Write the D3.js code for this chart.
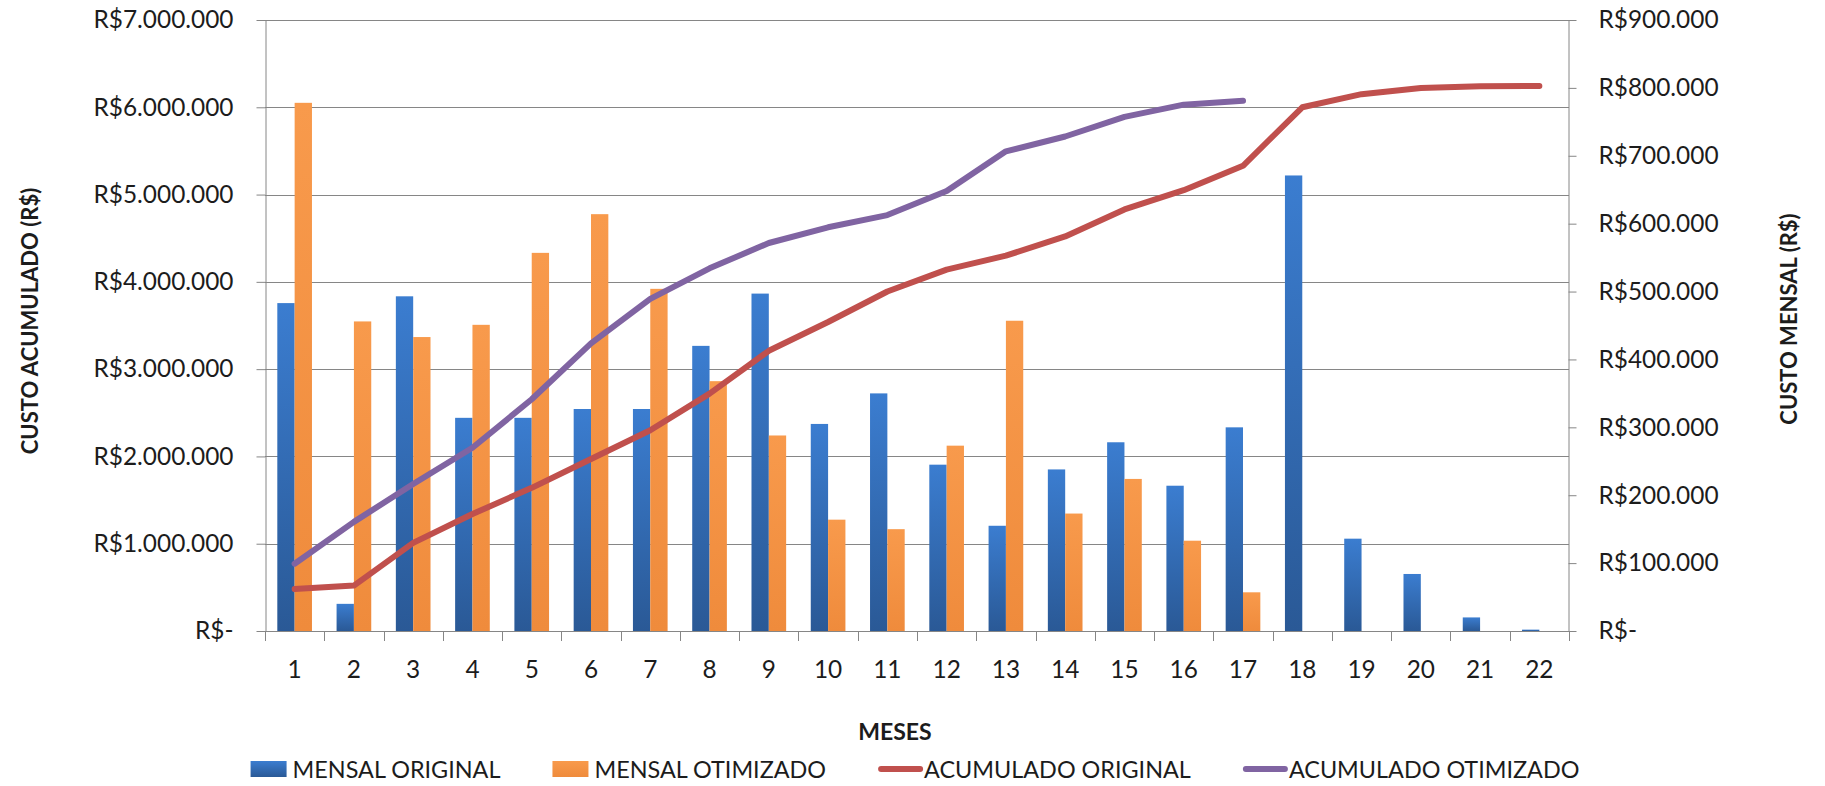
<!DOCTYPE html>
<html>
<head>
<meta charset="utf-8">
<script src="https://cdn.jsdelivr.net/npm/d3@7"></script>
<style>
  body { margin: 0; background: #ffffff; }
  svg { display: block; }
  text { font-family: Lato, "Open Sans", sans-serif; fill: #1c1c1c; }
</style>
</head>
<body>
<svg id="chart" width="1825" height="786"></svg>
<script>
// Months of the schedule
const meses = [1, 2, 3, 4, 5, 6, 7, 8, 9, 10, 11, 12, 13, 14, 15, 16, 17, 18, 19, 20, 21, 22];

// Monthly cost (right axis, R$)
const mensalOriginal = [483000, 40000, 493000, 314000, 314000, 327000, 327000, 420000, 497000, 305000, 350000,
  245000, 155000, 238000, 278000, 214000, 300000, 671000, 136000, 84000, 20000, 2000];
const mensalOtimizado = [778000, 456000, 433000, 451000, 557000, 614000, 504000, 368000, 288000, 164000, 150000,
  273000, 457000, 173000, 224000, 133000, 57000, null, null, null, null, null];

// Accumulated cost (left axis, R$)
const acumuladoOriginal = [480000, 520000, 1010000, 1340000, 1640000, 1970000, 2300000, 2720000, 3210000, 3540000,
  3890000, 4140000, 4300000, 4520000, 4830000, 5050000, 5330000, 6000000, 6150000, 6220000, 6240000, 6245000];
const acumuladoOtimizado = [771000, 1250000, 1685000, 2100000, 2655000, 3295000, 3805000, 4155000, 4445000, 4625000,
  4765000, 5040000, 5495000, 5665000, 5890000, 6030000, 6075000];

// Axis ticks
const ticksAcumulado = [0, 1000000, 2000000, 3000000, 4000000, 5000000, 6000000, 7000000];
const ticksMensal = [0, 100000, 200000, 300000, 400000, 500000, 600000, 700000, 800000, 900000];

// Series names and colours
const serieNomes = ["MENSAL ORIGINAL", "MENSAL OTIMIZADO", "ACUMULADO ORIGINAL", "ACUMULADO OTIMIZADO"];
const cores = { vermelho: "#c0504d", roxo: "#8064a2" };

const svg = d3.select("#chart");
const area = { left: 265, right: 1569, top: 20, bottom: 631 };
const axisColor = "#868686";
const fonte = "Lato, 'Open Sans', sans-serif";

const brl = d3.formatLocale({ decimal: ",", thousands: ".", grouping: [3], currency: ["R$", ""] });
const fmtMoeda = v => v === 0 ? "R$-" : brl.format("$,.0f")(v);

// Scales
const x = d3.scaleBand().domain(meses).range([area.left, area.right]).padding(0);
const xSerie = d3.scaleBand().domain(["orig", "otim"]).range([0, x.bandwidth()]).paddingInner(0).paddingOuter(0.71);
const yAcum = d3.scaleLinear().domain([0, 7000000]).range([area.bottom, area.top]);
const yMensal = d3.scaleLinear().domain([0, 900000]).range([area.bottom, area.top]);

// Bar gradients
const defs = svg.append("defs");
function grad(id, top, bottom) {
  const g = defs.append("linearGradient").attr("id", id).attr("x1", 0).attr("y1", 0).attr("x2", 0).attr("y2", 1);
  g.append("stop").attr("offset", "0%").attr("stop-color", top);
  g.append("stop").attr("offset", "100%").attr("stop-color", bottom);
}
grad("gAzul", "#3b7dd0", "#2a5996");
grad("gLaranja", "#f89a4c", "#ef8b3c");

// Horizontal gridlines on the accumulated scale
svg.append("g").selectAll("line")
  .data(ticksAcumulado.filter(v => v > 0))
  .join("line")
  .attr("x1", area.left).attr("x2", area.right)
  .attr("y1", d => Math.round(yAcum(d)) + 0.5).attr("y2", d => Math.round(yAcum(d)) + 0.5)
  .attr("stroke", axisColor).attr("stroke-width", 1);

// Bars
const grupos = svg.append("g").selectAll("g")
  .data(meses.map((m, i) => ({ m, orig: mensalOriginal[i], otim: mensalOtimizado[i] })))
  .join("g")
  .attr("transform", d => `translate(${x(d.m)},0)`);

grupos.filter(d => d.orig != null).append("rect")
  .attr("x", xSerie("orig")).attr("width", xSerie.bandwidth())
  .attr("y", d => yMensal(d.orig)).attr("height", d => area.bottom - yMensal(d.orig))
  .attr("fill", "url(#gAzul)");

grupos.filter(d => d.otim != null).append("rect")
  .attr("x", xSerie("otim")).attr("width", xSerie.bandwidth())
  .attr("y", d => yMensal(d.otim)).attr("height", d => area.bottom - yMensal(d.otim))
  .attr("fill", "url(#gLaranja)");

// Left axis (accumulated)
const eixoEsq = svg.append("g").attr("transform", `translate(${area.left + 0.5},0)`)
  .call(d3.axisLeft(yAcum).tickValues(ticksAcumulado).tickFormat(fmtMoeda).tickSize(9).tickSizeOuter(0).tickPadding(23));
// Right axis (monthly)
const eixoDir = svg.append("g").attr("transform", `translate(${area.right - 0.5},0)`)
  .call(d3.axisRight(yMensal).tickValues(ticksMensal).tickFormat(fmtMoeda).tickSize(8).tickSizeOuter(0).tickPadding(22));
// Bottom axis (months), labels centred in each band
const eixoX = svg.append("g").attr("transform", `translate(0,${area.bottom + 0.5})`)
  .call(d3.axisBottom(x).tickSize(0).tickSizeOuter(0).tickPadding(29));

[eixoEsq, eixoDir, eixoX].forEach(g => {
  g.select(".domain").attr("stroke", axisColor);
  g.selectAll(".tick line").attr("stroke", axisColor);
  g.selectAll(".tick text").attr("font-size", 24.4).attr("fill", "#1c1c1c").attr("font-family", fonte);
});
eixoX.select(".domain").attr("d", `M${area.left},0H${area.right}`);

// Tick marks between month bands
const limites = meses.map(m => x(m)).concat([area.right]);
svg.append("g").selectAll("line").data(limites).join("line")
  .attr("x1", d => Math.round(d) + 0.5).attr("x2", d => Math.round(d) + 0.5)
  .attr("y1", area.bottom).attr("y2", area.bottom + 10)
  .attr("stroke", axisColor);

// Accumulated lines
const linha = d3.line()
  .x((d, i) => x(meses[i]) + x.bandwidth() / 2)
  .y(d => yAcum(d));

svg.append("path").datum(acumuladoOriginal).attr("d", linha)
  .attr("fill", "none").attr("stroke", cores.vermelho).attr("stroke-width", 6)
  .attr("stroke-linejoin", "round").attr("stroke-linecap", "round");
svg.append("path").datum(acumuladoOtimizado).attr("d", linha)
  .attr("fill", "none").attr("stroke", cores.roxo).attr("stroke-width", 6)
  .attr("stroke-linejoin", "round").attr("stroke-linecap", "round");

// Axis titles
svg.append("text").attr("transform", "translate(29,321) rotate(-90)")
  .attr("text-anchor", "middle").attr("dominant-baseline", "central")
  .attr("font-size", 22).attr("font-weight", "bold").text("CUSTO ACUMULADO (R$)");
svg.append("text").attr("transform", "translate(1788,319) rotate(-90)")
  .attr("text-anchor", "middle").attr("dominant-baseline", "central")
  .attr("font-size", 22).attr("font-weight", "bold").text("CUSTO MENSAL (R$)");
svg.append("text").attr("x", 895).attr("y", 740)
  .attr("text-anchor", "middle").attr("font-size", 23).attr("font-weight", "bold").text("MESES");

// Legend
const legendaItens = [
  { nome: serieNomes[0], tipo: "barra", cor: "url(#gAzul)" },
  { nome: serieNomes[1], tipo: "barra", cor: "url(#gLaranja)" },
  { nome: serieNomes[2], tipo: "linha", cor: cores.vermelho },
  { nome: serieNomes[3], tipo: "linha", cor: cores.roxo }
];
const espaco = 52;
const legenda = svg.append("g");
let cursor = 0;
legendaItens.forEach(it => {
  const g = legenda.append("g").attr("transform", `translate(${cursor},0)`);
  let keyW;
  if (it.tipo === "barra") {
    keyW = 36;
    g.append("rect").attr("x", 0).attr("y", -8).attr("width", keyW).attr("height", 16).attr("fill", it.cor);
  } else {
    keyW = 45;
    g.append("line").attr("x1", 3).attr("x2", 42).attr("y1", 0).attr("y2", 0)
      .attr("stroke", it.cor).attr("stroke-width", 6).attr("stroke-linecap", "round");
  }
  const gap = it.tipo === "barra" ? 6 : 1;
  const t = g.append("text").attr("x", keyW + gap).attr("y", 9).attr("font-size", 23.4).text(it.nome);
  cursor += keyW + gap + t.node().getComputedTextLength() + espaco;
});
const larguraLegenda = cursor - espaco;
legenda.attr("transform", `translate(${915 - larguraLegenda / 2},769)`);
</script>
</body>
</html>
